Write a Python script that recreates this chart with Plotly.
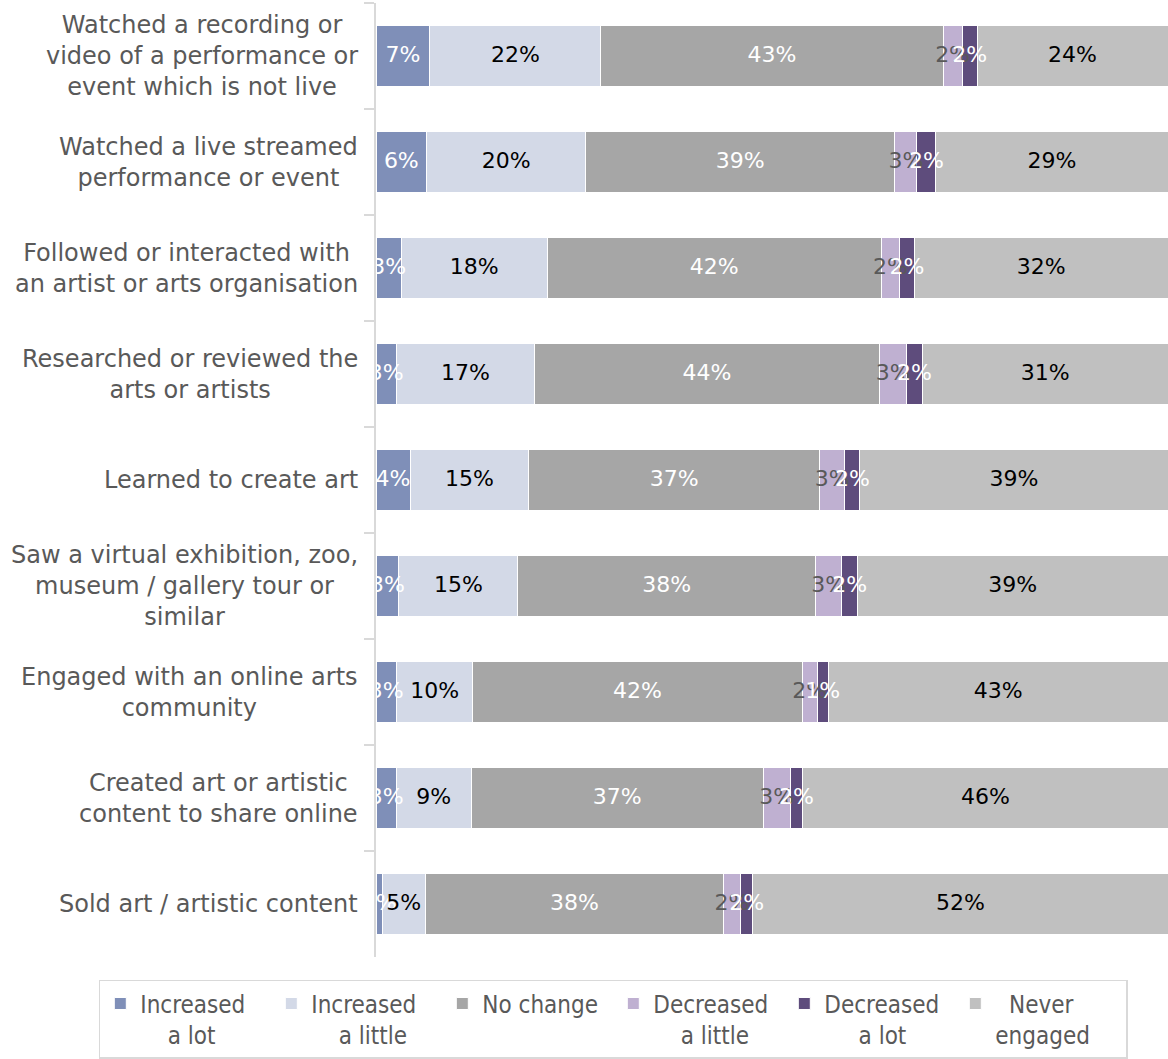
import plotly.graph_objects as go

categories = [
    "Watched a recording or<br>video of a performance or<br>event which is not live",
    "Watched a live streamed<br>performance or event",
    "Followed or interacted with<br>an artist or arts organisation",
    "Researched or reviewed the<br>arts or artists",
    "Learned to create art",
    "Saw a virtual exhibition, zoo,<br>museum / gallery tour or<br>similar",
    "Engaged with an online arts<br>community",
    "Created art or artistic<br>content to share online",
    "Sold art / artistic content",
]

series_names = ["Increased a lot", "Increased a little", "No change",
                "Decreased a little", "Decreased a lot", "Never engaged"]
NB = "\u00a0"
legend_labels = ["Increased<br>" + NB * 4 + "a lot",
                 "Increased<br>" + NB * 4 + "a little",
                 "No change",
                 "Decreased<br>" + NB * 4 + "a little",
                 "Decreased<br>" + NB * 5 + "a lot",
                 NB * 2 + "Never<br>engaged"]

increased_lot = [6.8, 6.4, 3.2, 2.6, 4.3, 2.9, 2.6, 2.6, 0.8]
increased_little = [21.6, 20.1, 18.4, 17.4, 15.0, 15.0, 9.6, 9.4, 5.4]
no_change = [43.2, 39.0, 42.2, 43.6, 36.7, 37.6, 41.6, 36.9, 37.7]
decreased_little = [2.4, 2.8, 2.3, 3.4, 3.2, 3.3, 1.9, 3.4, 2.1]
decreased_lot = [1.9, 2.4, 1.9, 2.0, 1.9, 2.0, 1.4, 1.6, 1.6]
never_engaged = [24.1, 29.3, 32.0, 31.0, 38.9, 39.2, 42.9, 46.1, 52.4]

all_series = [increased_lot, increased_little, no_change,
              decreased_little, decreased_lot, never_engaged]
colors = ["#7F8FB8", "#D3D9E7", "#A6A6A6", "#BFB0D1", "#5E4C7C", "#C0C0C0"]
label_colors = ["#FFFFFF", "#000000", "#FFFFFF", "#595959", "#FFFFFF", "#000000"]

FONT = "DejaVu Sans, Liberation Sans, sans-serif"
NARROW = "DejaVu Sans Condensed, Liberation Sans Narrow, Liberation Sans, sans-serif"

fig = go.Figure()
for name, leg, vals, col in zip(series_names, legend_labels, all_series, colors):
    fig.add_trace(go.Bar(
        y=categories, x=vals, name=leg, orientation="h",
        marker=dict(color=col, line=dict(color="#FFFFFF", width=1)),
        hoverinfo="x+name",
    ))

# data labels on top of all bars
cum = [0.0] * len(categories)
for vals, lc in zip(all_series, label_colors):
    centers = [c + v / 2 for c, v in zip(cum, vals)]
    cum = [c + v for c, v in zip(cum, vals)]
    fig.add_trace(go.Scatter(
        y=categories, x=centers, mode="text",
        text=[f"{round(v)}%" for v in vals],
        textfont=dict(family=FONT, size=22, color=lc),
        showlegend=False, hoverinfo="skip",
    ))

# category labels (centered multi-line, right anchored)
for cat in categories:
    fig.add_annotation(
        x=0, xref="paper", y=cat, yref="y", text=cat, showarrow=False,
        xanchor="right", yanchor="middle", align="center", xshift=-16,
        font=dict(family=FONT, size=24, color="#595959"),
    )

fig.update_layout(
    width=1168, height=1059,
    margin=dict(l=376, r=0, t=3, b=102),
    barmode="stack", bargap=0.43,
    plot_bgcolor="white", paper_bgcolor="white",
    font=dict(family=FONT, size=22, color="#595959"),
    xaxis=dict(range=[0, 100], visible=False, fixedrange=True),
    yaxis=dict(
        autorange="reversed", showticklabels=False,
        showline=True, linecolor="#D9D9D9", linewidth=1.5,
        ticks="outside", tickson="boundaries", ticklen=10,
        tickcolor="#D9D9D9", tickwidth=1.5, showgrid=False,
        fixedrange=True,
    ),
    legend=dict(
        orientation="h", x=-0.35, xanchor="left", y=-0.024, yanchor="top",
        bordercolor="#D9D9D9", borderwidth=1.5,
        font=dict(family=NARROW, size=24, color="#595959"),
        traceorder="normal", valign="top",
        entrywidth=126, entrywidthmode="pixels", itemwidth=30,
    ),
)

fig.write_html("out.html", config={"displayModeBar": False},
               post_script="document.body.style.margin='0';")
